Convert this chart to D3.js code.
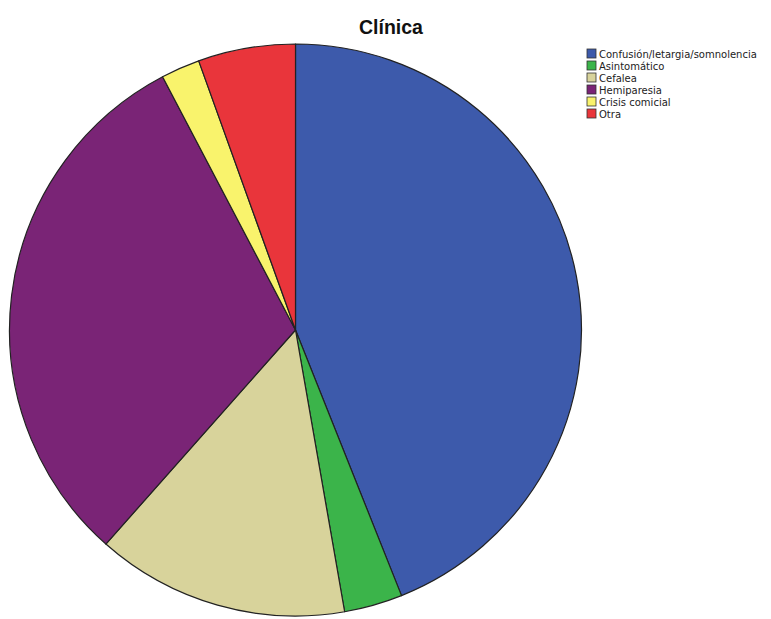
<!DOCTYPE html>
<html>
<head>
<meta charset="utf-8">
<script src="https://cdn.jsdelivr.net/npm/d3@7"></script>
<style>
  html, body { margin: 0; padding: 0; background: #fff; }
  svg { display: block; }
</style>
</head>
<body>
<svg id="chart" width="771" height="619"></svg>
<script>
// Clinical presentation, patient counts per category
const categories = ["Confusión/letargia/somnolencia", "Asintomático", "Cefalea", "Hemiparesia", "Crisis comicial", "Otra"];
const counts = [40, 3, 13, 28, 2, 5];
const colors = ["#3d5aab", "#3bb44a", "#d8d39b", "#7a2476", "#f9f36c", "#e9353b"];

const svg = d3.select("#chart");
const width = 771, height = 619;
const cx = 295.5, cy = 330, radius = 286;

svg.append("rect").attr("width", width).attr("height", height).attr("fill", "#fff");

svg.append("text")
  .attr("x", 391).attr("y", 34)
  .attr("text-anchor", "middle")
  .attr("font-family", "Liberation Sans, Arial, sans-serif")
  .attr("font-weight", "bold")
  .attr("font-size", 19.5)
  .attr("fill", "#111")
  .text("Clínica");

const data = categories.map((c, i) => ({ name: c, value: counts[i], color: colors[i] }));

const pie = d3.pie().value(d => d.value).sort(null);
const arc = d3.arc().innerRadius(0).outerRadius(radius);

svg.append("g")
  .attr("transform", `translate(${cx},${cy})`)
  .selectAll("path")
  .data(pie(data))
  .join("path")
  .attr("d", arc)
  .attr("fill", d => d.data.color)
  .attr("stroke", "#222")
  .attr("stroke-width", 1.2)
  .attr("stroke-linejoin", "round");

// Legend
const legend = svg.append("g").attr("transform", "translate(587,49)");
const rows = legend.selectAll("g")
  .data(data)
  .join("g")
  .attr("transform", (d, i) => `translate(0,${i * 12})`);

rows.append("rect")
  .attr("width", 9).attr("height", 9)
  .attr("fill", d => d.color)
  .attr("stroke", "#333")
  .attr("stroke-width", 0.8);

rows.append("text")
  .attr("x", 12).attr("y", 8.5)
  .attr("font-family", "DejaVu Sans, Verdana, sans-serif")
  .attr("font-size", 10)
  .attr("fill", "#222")
  .text(d => d.name);
</script>
</body>
</html>
